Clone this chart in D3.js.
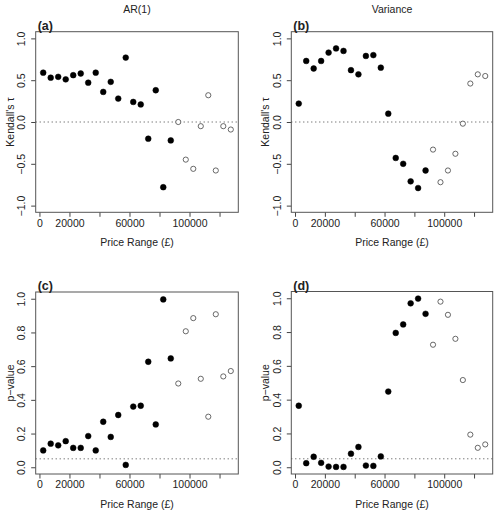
<!DOCTYPE html>
<html>
<head>
<meta charset="utf-8">
<script src="https://cdn.jsdelivr.net/npm/d3@7"></script>
<style>
  body { margin: 0; background: #fff; }
  text { font-family: "Liberation Sans", Arial, Helvetica, sans-serif; fill: #222; }
</style>
</head>
<body>
<svg id="chart" width="500" height="514"></svg>
<script>
// ---- data ----
const priceRange = [2500, 7500, 12500, 17500, 22500, 27500, 32500, 37500, 42500, 47500,
  52500, 57500, 62500, 67500, 72500, 77500, 82500, 87500,
  92500, 97500, 102500, 107500, 112500, 117500, 122500, 127500];
const nFilled = 18; // first 18 points drawn filled, the rest open
const arTau = [0.59, 0.53, 0.54, 0.51, 0.56, 0.58, 0.47, 0.59, 0.36, 0.48,
  0.28, 0.77, 0.24, 0.21, -0.20, 0.38, -0.78, -0.22,
  0.00, -0.45, -0.56, -0.05, 0.32, -0.58, -0.05, -0.09];
const varTau = [0.22, 0.73, 0.64, 0.73, 0.83, 0.88, 0.85, 0.62, 0.57, 0.79,
  0.80, 0.65, 0.10, -0.43, -0.50, -0.71, -0.79, -0.58,
  -0.33, -0.72, -0.58, -0.38, -0.02, 0.46, 0.57, 0.55];
const arP = [0.10, 0.14, 0.13, 0.155, 0.115, 0.115, 0.185, 0.10, 0.27, 0.18,
  0.31, 0.014, 0.36, 0.365, 0.626, 0.254, 0.996, 0.646,
  0.497, 0.807, 0.885, 0.525, 0.30, 0.908, 0.539, 0.571];
const varP = [0.364, 0.024, 0.062, 0.026, 0.004, 0.002, 0.002, 0.08, 0.12, 0.01,
  0.008, 0.064, 0.448, 0.795, 0.845, 0.97, 0.998, 0.908,
  0.725, 0.98, 0.902, 0.76, 0.516, 0.193, 0.115, 0.135];
const xTicks = [0, 20000, 40000, 60000, 80000, 100000, 120000];
const xTickLabels = ["0", "20000", "", "60000", "", "100000", ""];
const tauTicks = [-1.0, -0.5, 0.0, 0.5, 1.0];
const tauTickLabels = ["\u22121.0", "\u22120.5", "0.0", "0.5", "1.0"];
const pTicks = [0.0, 0.2, 0.4, 0.6, 0.8, 1.0];
const pTickLabels = ["0.0", "0.2", "0.4", "0.6", "0.8", "1.0"];
const columnTitles = ["AR(1)", "Variance"];

// ---- layout ----
const svg = d3.select("#chart");
const panels = [
  {id: "(a)", vals: arTau, x0: 35.7, x1: 238.3, y0: 31.7, y1: 212.3, ydom: [-1.08, 1.08], ticks: tauTicks, labels: tauTickLabels, ylab: "Kendall's \u03c4", ref: 0, title: columnTitles[0]},
  {id: "(b)", vals: varTau, x0: 291.3, x1: 492.7, y0: 31.7, y1: 212.3, ydom: [-1.08, 1.08], ticks: tauTicks, labels: tauTickLabels, ylab: "Kendall's \u03c4", ref: 0, title: columnTitles[1]},
  {id: "(c)", vals: arP, x0: 35.7, x1: 238.3, y0: 292, y1: 474, ydom: [-0.04, 1.04], ticks: pTicks, labels: pTickLabels, ylab: "p\u2212value", ref: 0.05},
  {id: "(d)", vals: varP, x0: 291.3, x1: 492.7, y0: 291.5, y1: 474, ydom: [-0.04, 1.04], ticks: pTicks, labels: pTickLabels, ylab: "p\u2212value", ref: 0.05}
];

panels.forEach(p => {
  const x = d3.scaleLinear().domain([-2500, 132500]).range([p.x0, p.x1]);
  const y = d3.scaleLinear().domain(p.ydom).range([p.y1, p.y0]);
  const g = svg.append("g");

  // reference dotted line
  g.append("line")
    .attr("x1", p.x0).attr("x2", p.x1)
    .attr("y1", y(p.ref)).attr("y2", y(p.ref))
    .attr("stroke", "#444").attr("stroke-width", 1)
    .attr("stroke-dasharray", "1,3");

  // x axis
  const xa = g.append("g").attr("transform", `translate(0,${p.y1})`)
    .call(d3.axisBottom(x).tickValues(xTicks).tickSize(4.5).tickPadding(2.5)
      .tickFormat((d, i) => xTickLabels[i]));
  xa.select(".domain").remove();
  xa.selectAll(".tick line").attr("stroke", "#444");
  xa.selectAll(".tick text").attr("font-size", 10.5).attr("fill", "#222")
    .attr("font-family", "Liberation Sans, Arial, sans-serif");

  // y axis
  const ya = g.append("g").attr("transform", `translate(${p.x0},0)`)
    .call(d3.axisLeft(y).tickValues(p.ticks).tickSize(4.5).tickPadding(0)
      .tickFormat((d, i) => p.labels[i]));
  ya.select(".domain").remove();
  ya.selectAll(".tick line").attr("stroke", "#444");
  ya.selectAll(".tick text")
    .attr("font-size", 10.5).attr("fill", "#222")
    .attr("font-family", "Liberation Sans, Arial, sans-serif")
    .attr("text-anchor", "middle")
    .attr("x", 0).attr("dy", 0)
    .attr("transform", "translate(-10.5,0) rotate(-90)");

  // box
  g.append("rect")
    .attr("x", p.x0).attr("y", p.y0)
    .attr("width", p.x1 - p.x0).attr("height", p.y1 - p.y0)
    .attr("fill", "none").attr("stroke", "#555").attr("stroke-width", 1);

  // points
  g.selectAll("circle.pt").data(priceRange).enter().append("circle")
    .attr("class", "pt")
    .attr("cx", d => x(d))
    .attr("cy", (d, i) => y(p.vals[i]))
    .attr("r", (d, i) => i < nFilled ? 2.9 : 2.6)
    .attr("fill", (d, i) => i < nFilled ? "#000" : "#fff")
    .attr("stroke", (d, i) => i < nFilled ? "#000" : "#444")
    .attr("stroke-width", (d, i) => i < nFilled ? 0.5 : 0.8);

  // x label
  g.append("text")
    .attr("x", (p.x0 + p.x1) / 2).attr("y", p.y1 + 34)
    .attr("text-anchor", "middle").attr("font-size", 10.5)
    .text("Price Range (\u00a3)");

  // y label
  g.append("text")
    .attr("transform", `translate(${p.x0 - 22},${(p.y0 + p.y1) / 2}) rotate(-90)`)
    .attr("text-anchor", "middle").attr("font-size", 10.5)
    .text(p.ylab);

  // panel id
  g.append("text")
    .attr("x", p.x0 + 2).attr("y", p.y0 - 2)
    .attr("font-size", 12.5).attr("font-weight", "bold")
    .text(p.id);

  if (p.title) {
    g.append("text")
      .attr("x", (p.x0 + p.x1) / 2).attr("y", 13)
      .attr("text-anchor", "middle").attr("font-size", 10.5)
      .text(p.title);
  }
});
</script>
</body>
</html>
